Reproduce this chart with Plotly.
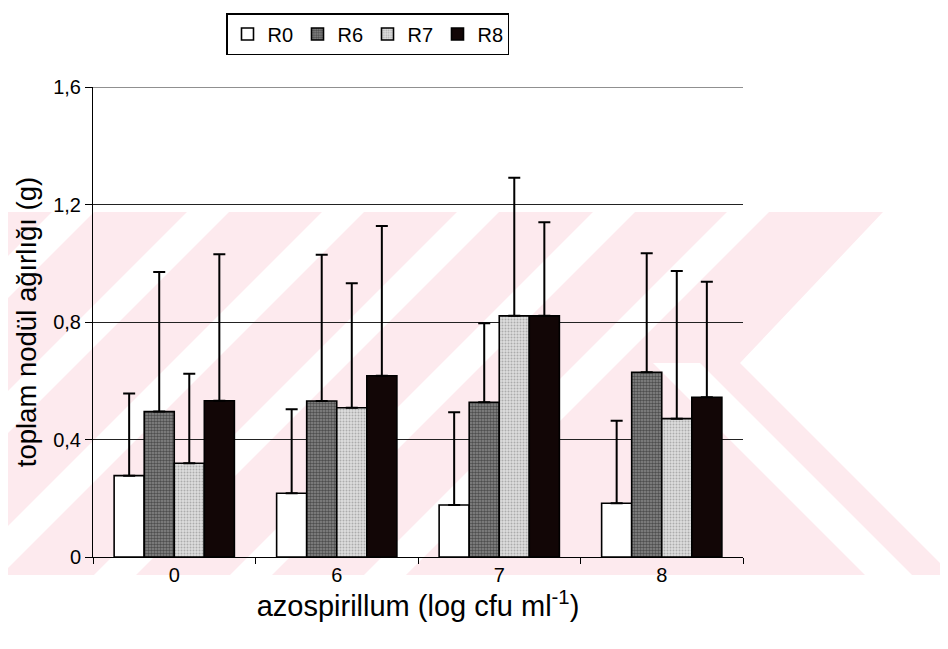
import plotly.graph_objects as go

categories = ["0", "6", "7", "8"]
series_names = ["R0", "R6", "R7", "R8"]
r0 = [0.277, 0.217, 0.177, 0.183]
r6 = [0.495, 0.531, 0.527, 0.629]
r7 = [0.319, 0.508, 0.821, 0.471]
r8 = [0.532, 0.617, 0.821, 0.544]
r0_err = [0.280, 0.286, 0.316, 0.281]
r6_err = [0.475, 0.498, 0.269, 0.405]
r7_err = [0.305, 0.424, 0.470, 0.503]
r8_err = [0.499, 0.510, 0.319, 0.393]
y_tickvals = [0, 0.4, 0.8, 1.2, 1.6]
y_ticktext = ["0", "0,4", "0,8", "1,2", "1,6"]

FONT = "Liberation Sans, Arial, sans-serif"
OFF = 8  # page body margin
W, H = 948 - OFF, 649 - OFF
L, R, T, B = 93 - OFF, 743 - OFF, 87 - OFF, 557 - OFF

def px(x):
    return (x - OFF - L) / (R - L)

def py(y):
    return (B - (y - OFF)) / (B - T)

styles = [
    dict(color="white"),
    dict(color="#5a5a5a", pattern=dict(shape=".", fgcolor="#111111", bgcolor="#8a8a8a", size=3, solidity=0.55)),
    dict(color="#cfcfcf", pattern=dict(shape=".", fgcolor="#7a7a7a", bgcolor="#dedede", size=3, solidity=0.35)),
    dict(color="#120606"),
]

fig = go.Figure()
for name, vals, errs, st in zip(series_names, [r0, r6, r7, r8], [r0_err, r6_err, r7_err, r8_err], styles):
    marker = dict(color=st["color"], line=dict(color="black", width=1.6))
    if "pattern" in st:
        marker["pattern"] = st["pattern"]
    fig.add_trace(go.Bar(
        x=categories, y=vals, name=name, marker=marker,
        error_y=dict(type="data", array=errs, arrayminus=[0] * len(errs), symmetric=False,
                     color="black", thickness=2, width=6),
    ))

# watermark-like background (decorative)
shapes = []
pink = "#fdeaee"
def poly(pts, color):
    path = "M " + " L ".join(f"{px(x):.4f},{py(y):.4f}" for x, y in pts) + " Z"
    return dict(type="path", xref="paper", yref="paper", path=path, fillcolor=color,
                line=dict(width=0), layer="below")

shapes.append(poly([(0, 212), (948, 212), (948, 575), (0, 575)], pink))
for a in [52, 187, 322, 457, 593, 727]:
    shapes.append(poly([(a, 212), (a + 42, 212), (a + 42 - 363, 575), (a - 363, 575)], "white"))
shapes.append(poly([(883, 212), (948, 212), (948, 571), (740, 363)], "white"))
shapes.append(poly([(653, 363), (700, 363), (912, 575), (865, 575)], "white"))
# top gridline at 1.6
shapes.append(dict(type="line", xref="paper", yref="y", x0=0, x1=1, y0=1.6, y1=1.6,
                   line=dict(color="#222222", width=1), layer="below"))
fig.update_layout(shapes=shapes)

fig.update_layout(
    width=W, height=H,
    margin=dict(l=L, r=W - R, t=T, b=H - B, autoexpand=False),
    paper_bgcolor="white", plot_bgcolor="rgba(0,0,0,0)",
    barmode="group", bargap=0.26, bargroupgap=0,
    font=dict(family=FONT, color="black", size=16),
    showlegend=True,
    legend=dict(orientation="h", x=px(226), y=py(13), xanchor="left", yanchor="top",
                bordercolor="black", borderwidth=1.5, bgcolor="white",
                font=dict(size=20, family=FONT), itemwidth=30, tracegroupgap=0,
                entrywidth=25),
    xaxis=dict(type="category", showline=True, linecolor="black", linewidth=1,
               ticks="outside", tickson="boundaries", ticklen=6, tickcolor="black",
               showgrid=False, tickfont=dict(size=20, family=FONT), automargin=False,
               title=dict(text="azospirillum (log cfu ml<sup>-1</sup>)", font=dict(size=29, family=FONT), standoff=5)),
    yaxis=dict(range=[0, 1.6], tickvals=y_tickvals, ticktext=y_ticktext,
               showline=True, linecolor="black", linewidth=1, ticks="outside", ticklen=7,
               tickcolor="black", showgrid=True, gridcolor="#222222", gridwidth=1,
               zeroline=False, tickfont=dict(size=20, family=FONT), automargin=False,
               title=dict(text="toplam nodül ağırlığı (g)", font=dict(size=27.5, family=FONT), standoff=8)),
)

fig.write_html("out.html")
